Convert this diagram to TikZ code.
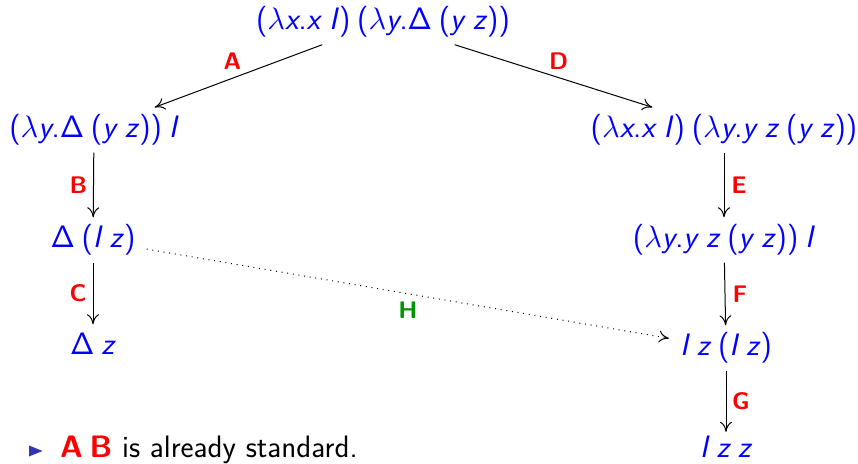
\RequirePackage{fix-cm}
\documentclass[tikz,border=0pt]{standalone}
\usetikzlibrary{arrows.meta}
\definecolor{exprblue}{RGB}{0,0,255}
\definecolor{lblred}{RGB}{255,0,0}
\definecolor{lblgreen}{RGB}{0,150,0}
\definecolor{bulletblue}{RGB}{51,51,179}
\newcommand\vx[1]{\textit{#1}}
\newcommand\lm{\ensuremath{\lambda}}
\newcommand\Dt{\ensuremath{\mathsf{\Delta}}}
\newcommand\ap{\hspace{0.22em}}
\begin{document}
\begin{tikzpicture}[x=1pt,y=-1pt,
  term/.style={text=exprblue, font=\fontsize{31}{37}\selectfont\sffamily,
    inner xsep=11pt, inner ysep=7pt, text height=23.25pt, text depth=7.75pt},
  lastterm/.style={term, inner ysep=0pt, text height=25pt, text depth=0pt, anchor=base},
  lbl/.style={text=lblred, font=\fontsize{24}{28}\selectfont\sffamily\bfseries, inner sep=0pt},
  hlbl/.style={lbl, text=lblgreen},
  arr/.style={draw=black, line width=1pt, -{To[length=10pt,width=12pt]}},
  dotarr/.style={arr, dash pattern=on 1pt off 4.7pt},
]
\useasboundingbox (0,0) rectangle (858,463);

\node[term] (top) at (383,22) {(\lm\vx{x}.\vx{x}\ap\vx{I})\ap(\lm\vx{y}.\Dt\ap(\vx{y}\ap\vx{z}))};
\node[term] (n1) at (94,130) {(\lm\vx{y}.\Dt\ap(\vx{y}\ap\vx{z}))\ap\vx{I}};
\node[term] (n2) at (724,130) {(\lm\vx{x}.\vx{x}\ap\vx{I})\ap(\lm\vx{y}.\vx{y}\ap\vx{z}\ap(\vx{y}\ap\vx{z}))};
\node[term] (n3) at (93,240) {\Dt\ap(\vx{I}\ap\vx{z})};
\node[term] (n4) at (724,240) {(\lm\vx{y}.\vx{y}\ap\vx{z}\ap(\vx{y}\ap\vx{z}))\ap\vx{I}};
\node[term] (n5) at (93,347) {\Dt\ap\vx{z}};
\node[term] (n6) at (726,348) {\vx{I}\ap\vx{z}\ap(\vx{I}\ap\vx{z})};
\node[lastterm] (n7) at (726,457) {\vx{I}\ap\vx{z}\ap\vx{z}};

\draw[arr] (top) -- (n1) node[lbl, midway, xshift=-6pt, yshift=15pt] {A};
\draw[arr] (top) -- (n2) node[lbl, midway, xshift=5pt, yshift=14.5pt] {D};
\draw[arr] (n1) -- (n3) node[lbl, midway, xshift=-15pt] {B};
\draw[arr] (n3) -- (n5) node[lbl, midway, xshift=-15pt] {C};
\draw[arr] (n2) -- (n4) node[lbl, midway, xshift=15pt] {E};
\draw[arr] (n4) -- (n6) node[lbl, midway, xshift=15pt] {F};
\draw[arr] (n6) -- (n7) node[lbl, midway, xshift=15pt] {G};
\draw[dotarr] (n3) -- (n6) node[hlbl, midway, yshift=-16pt] {H};

\fill[bulletblue] (29,445.5) -- (42.5,451) -- (29,456.5) -- cycle;
\node[anchor=base west, inner sep=0pt, font=\fontsize{31}{37}\selectfont\sffamily] (note) at (60,457)
  {{\color{lblred}\bfseries A\ap B} is already standard.};
\end{tikzpicture}
\end{document}
